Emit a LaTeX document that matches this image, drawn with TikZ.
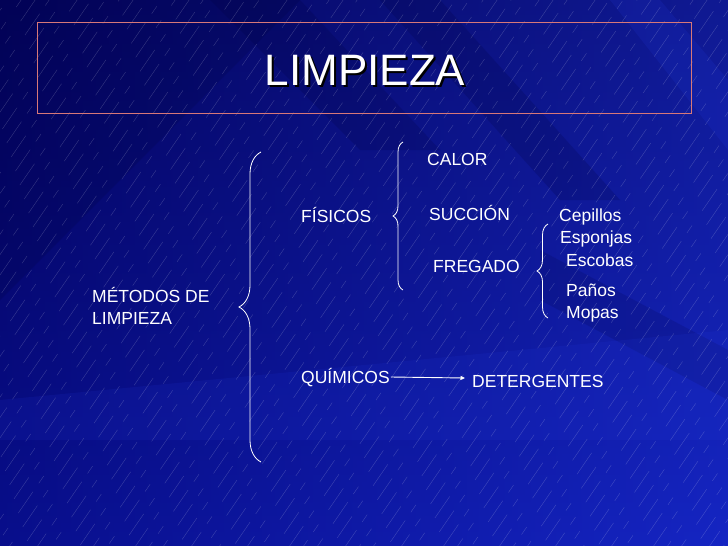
\documentclass[tikz,border=0pt]{standalone}
\usepackage{fontspec}
\setmainfont{Liberation Sans}
\usetikzlibrary{decorations.pathreplacing,arrows.meta,calc}
\definecolor{bgTop}{RGB}{3,3,92}
\definecolor{bgBot}{RGB}{12,22,172}
\definecolor{bandL}{RGB}{35,60,230}
\definecolor{bandD}{RGB}{0,0,60}
\definecolor{framec}{RGB}{215,120,120}
\begin{document}
\begin{tikzpicture}[x=1pt,y=-1pt,
  txt/.style={text=white,font=\fontsize{17.5}{20}\selectfont,inner sep=0pt,anchor=base west},
  bracestyle/.style={draw=white,line width=0.8pt,decorate,decoration={brace,amplitude=#1}},
  hatch/.style={draw=white,opacity=0.2,line width=0.4pt,dash pattern=on 26pt off 10pt on 9pt off 18pt},
  arr/.style={draw=white,line width=0.9pt,-{Triangle[length=4.5pt,width=4pt]}}]
\useasboundingbox (0,0) rectangle (728,546);
\begin{scope}
\clip (0,0) rectangle (728,546);
% background
\shade[top color=bgTop,bottom color=bgBot] (0,0) rectangle (728,546);
\shade[left color=bgTop,right color=bandL,opacity=0.4] (0,0) rectangle (728,546);
\fill[bandD,opacity=0.18] (0,0) -- (300,0) -- (0,300) -- cycle;
\fill[bandD,opacity=0.18] (210,0) -- (300,0) -- (440,150) -- (360,150) -- cycle;
\fill[bandD,opacity=0.18] (380,0) -- (440,0) -- (620,200) -- (560,200) -- cycle;
\fill[bandD,opacity=0.15] (540,250) -- (728,350) -- (728,400) -- (540,300) -- cycle;
\fill[bandL,opacity=0.12] (0,400) -- (728,330) -- (728,440) -- (0,440) -- cycle;
\fill[bandL,opacity=0.15] (610,0) -- (660,0) -- (728,80) -- (728,150) -- cycle;
\foreach \i [count=\k] in {-420,-406,...,740}
  \draw[hatch,dash phase={mod(\k*17,63)*1pt}] (\i,560) -- ++(392,-570);
\end{scope}
% title frame
\draw[framec,line width=0.8pt] (37,22) rectangle (691,113);
\node[inner sep=0pt,anchor=base,text=white,font=\fontsize{44}{48}\selectfont] (title) at (365,85)
  {\rlap{\hspace{2pt}\raisebox{-2pt}{\color{black}LIMPIEZA}}LIMPIEZA};
% texts
\node[txt] (metodos) at (92,302) {MÉTODOS DE};
\node[txt] (limpieza) at (92,324) {LIMPIEZA};
\node[txt] (fisicos) at (301,222) {FÍSICOS};
\node[txt] (quimicos) at (301,383) {QUÍMICOS};
\node[txt] (calor) at (427,165) {CALOR};
\node[txt] (succion) at (429,220) {SUCCIÓN};
\node[txt] (fregado) at (433,272) {FREGADO};
\node[txt] (cepillos) at (559,221) {Cepillos};
\node[txt] (esponjas) at (560,243) {Esponjas};
\node[txt] (escobas) at (566,266) {Escobas};
\node[txt] (panos) at (566,296) {Paños};
\node[txt] (mopas) at (566,318) {Mopas};
\node[txt] (detergentes) at (472,387) {DETERGENTES};
% braces
\coordinate (b1b) at (261,462); \coordinate (b1t) at (261,152);
\coordinate (b2b) at (403,290); \coordinate (b2t) at (403,142);
\coordinate (b3b) at (548,318); \coordinate (b3t) at (548,224);
\draw[bracestyle=22] (b1b) -- (b1t);
\draw[bracestyle=10] (b2b) -- (b2t);
\draw[bracestyle=11] (b3b) -- (b3t);
% arrow
\draw[arr] ($(quimicos.base east)+(1,-6)$) -- ($(detergentes.base west)+(-7,-9)$);
\end{tikzpicture}
\end{document}
